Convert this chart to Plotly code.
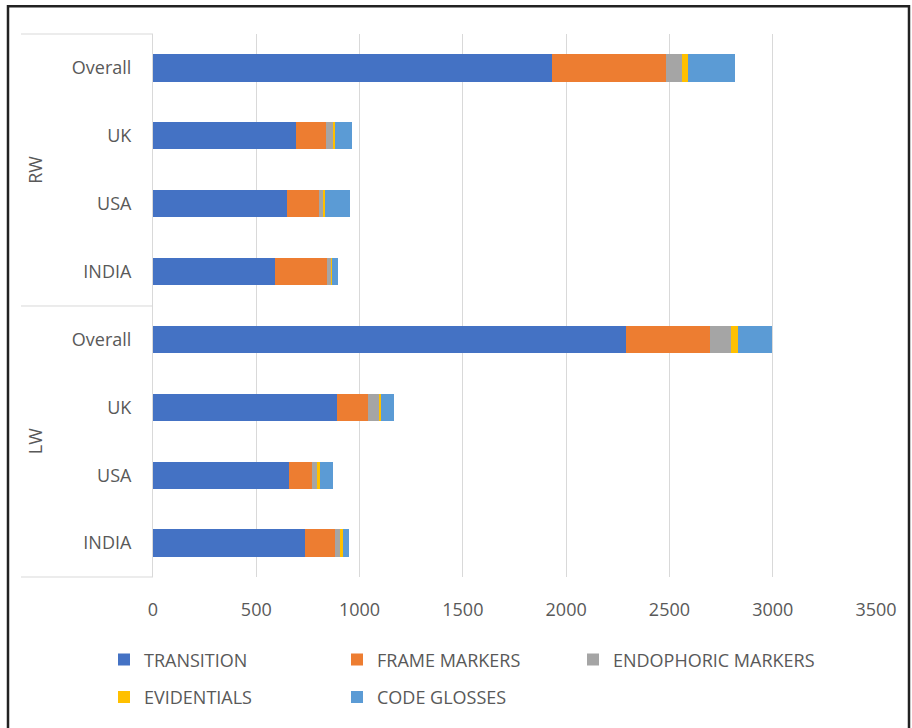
import plotly.graph_objects as go

# Sub-categories shown top to bottom, grouped by writing type
groups = ["RW", "RW", "RW", "RW", "LW", "LW", "LW", "LW"]
regions = ["Overall", "UK", "USA", "INDIA", "Overall", "UK", "USA", "INDIA"]

series_names = ["TRANSITION", "FRAME MARKERS", "ENDOPHORIC MARKERS", "EVIDENTIALS", "CODE GLOSSES"]
transition = [1933, 691, 647, 589, 2289, 889, 658, 736]
frame_markers = [550, 145, 157, 252, 405, 152, 114, 145]
endophoric_markers = [80, 35, 18, 23, 104, 55, 21, 23]
evidentials = [29, 10, 13, 3, 32, 10, 14, 15]
code_glosses = [223, 80, 121, 29, 168, 61, 66, 32]

x_ticks = [0, 500, 1000, 1500, 2000, 2500, 3000, 3500]

colors = ["#4472C4", "#ED7D31", "#A5A5A5", "#FFC000", "#5B9BD5"]
values = [transition, frame_markers, endophoric_markers, evidentials, code_glosses]

FONT = "Open Sans, Liberation Sans, sans-serif"
TXT = "#595959"
GRID = "#D9D9D9"

W, H = 912, 728
L, R, T, B = 153, 36, 34, 145
pw, ph = W - L - R, H - T - B

def px_x(px):
    return (px - L) / pw

def px_y(py):
    return (H - B - py) / ph

ids = [f"{g}|{r}" for g, r in zip(groups, regions)]

# legend slots: two rows, entries laid out in columns
legend_keys = ["legend", "legend2", "legend3", "legend4", "legend5"]
legend_left = [104, 337, 573, 104, 337]
legend_top = [648, 648, 648, 686, 686]

fig = go.Figure()
for name, vals, col, lg in zip(series_names, values, colors, legend_keys):
    fig.add_trace(go.Bar(
        y=ids, x=vals, name=name, orientation="h",
        marker=dict(color=col, line=dict(width=0)),
        legend=lg, showlegend=True,
    ))

shapes = []
# outer frame
shapes.append(dict(type="rect", xref="paper", yref="paper",
                   x0=px_x(8), x1=px_x(909), y0=px_y(740), y1=px_y(6),
                   line=dict(color="#222222", width=2.5), layer="above"))
# group dividers in the category table
for py in (34, 309, 583):
    shapes.append(dict(type="line", xref="paper", yref="paper",
                       x0=px_x(21), x1=0, y0=px_y(py), y1=px_y(py),
                       line=dict(color=GRID, width=1)))

annotations = []
group_names = []
for g in groups:
    if g not in group_names:
        group_names.append(g)
n = len(groups)
for g in group_names:
    idx = [i for i, gg in enumerate(groups) if gg == g]
    centre = (idx[0] + idx[-1]) / 2
    annotations.append(dict(
        text=g, xref="paper", yref="paper",
        x=px_x(35), y=1 - (centre + 0.5) / n,
        xanchor="center", yanchor="middle",
        textangle=-90, showarrow=False,
        font=dict(family=FONT, size=18, color=TXT),
    ))

legend_style = dict(orientation="h", xanchor="left", yanchor="top",
                    font=dict(family=FONT, size=18, color=TXT),
                    itemwidth=30, bgcolor="rgba(0,0,0,0)")
legends = {key: dict(x=px_x(lx), y=px_y(ty), **legend_style)
           for key, lx, ty in zip(legend_keys, legend_left, legend_top)}

fig.update_layout(
    width=W, height=H,
    margin=dict(l=L, r=R, t=T, b=B),
    paper_bgcolor="white", plot_bgcolor="white",
    barmode="stack", bargap=0.6, showlegend=True,
    font=dict(family=FONT, size=18, color=TXT),
    xaxis=dict(range=[0, 3500], tickvals=x_ticks, showgrid=True,
               gridcolor=GRID, gridwidth=1, zeroline=False,
               showline=False, ticks="", ticklabelstandoff=20,
               tickfont=dict(family=FONT, size=18, color=TXT)),
    yaxis=dict(categoryorder="array", categoryarray=ids,
               autorange="reversed", tickvals=ids, ticktext=regions,
               showline=True, linecolor=GRID, linewidth=1,
               showgrid=False, ticks="", ticklabelstandoff=17,
               tickfont=dict(family=FONT, size=18, color=TXT)),
    shapes=shapes, annotations=annotations,
    **legends,
)

fig.write_html("out.html")
